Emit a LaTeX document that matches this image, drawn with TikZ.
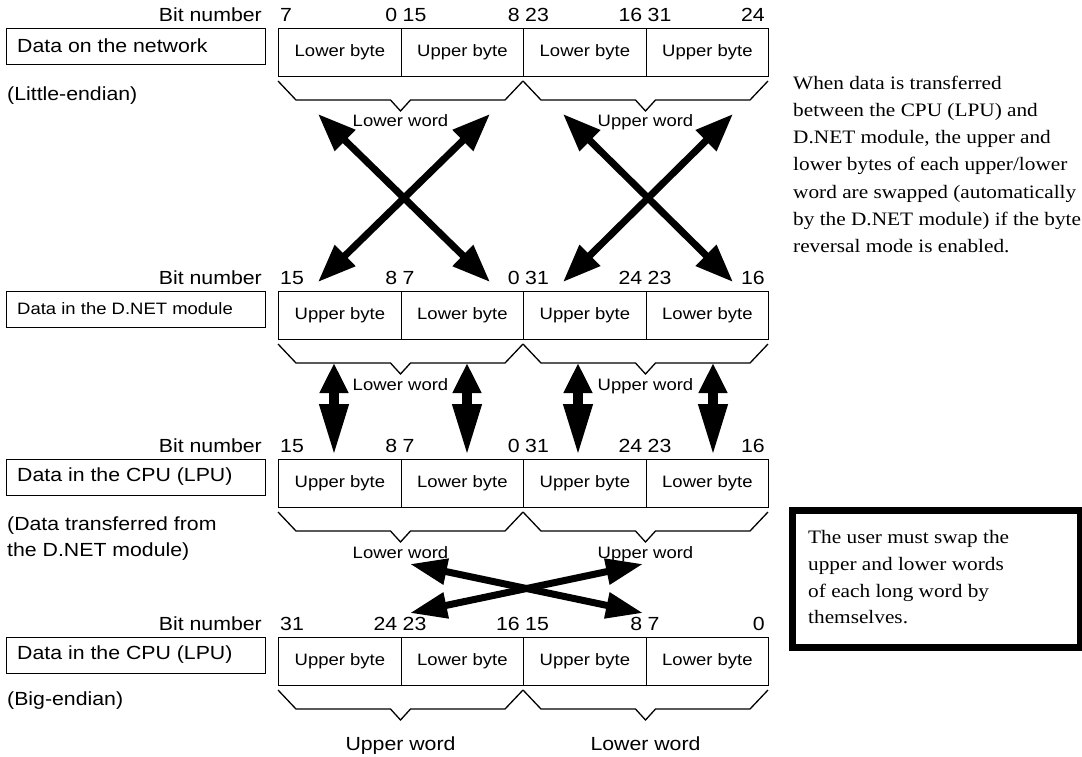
\documentclass[tikz,border=0pt]{standalone}
\usepackage{graphicx}
\usepackage{fontspec}
\setmainfont{Liberation Sans}
\newfontfamily\tnr{Liberation Serif}
\usetikzlibrary{arrows.meta}
\newcommand{\sx}[1]{\scalebox{1.12}[1]{#1}}
\def\ca{278}\def\cb{400.5}\def\cc{523}\def\cd{645.5}\def\ce{768}
% cells: #1 prefix, #2 top, #3-#6 byte labels
\newcommand{\byterow}[6]{%
  \node[cell] (#1c1) at (\ca,#2) {\sx{#3}};
  \node[cell] (#1c2) at (\cb,#2) {\sx{#4}};
  \node[cell] (#1c3) at (\cc,#2) {\sx{#5}};
  \node[cell] (#1c4) at (\cd,#2) {\sx{#6}};
}
% bit numbers: prefix in \rw, #1 baseline, #2..#9 numbers
\newcommand{\bitnums}[9]{%
  \node[num, anchor=base west] (\rw n1) at (\ca+2,#1) {\sx{#2}};
  \node[num, anchor=base east] (\rw n2) at (\cb-3,#1) {\sx{#3}};
  \node[num, anchor=base west] (\rw n3) at (\cb+2,#1) {\sx{#4}};
  \node[num, anchor=base east] (\rw n4) at (\cc-3,#1) {\sx{#5}};
  \node[num, anchor=base west] (\rw n5) at (\cc+2,#1) {\sx{#6}};
  \node[num, anchor=base east] (\rw n6) at (\cd-3,#1) {\sx{#7}};
  \node[num, anchor=base west] (\rw n7) at (\cd+2,#1) {\sx{#8}};
  \node[num, anchor=base east] (\rw n8) at (\ce-3,#1) {\sx{#9}};
  \node[num, anchor=base east] (\rw bn) at (262,#1) {\sx{Bit number}};
}
% word brace: #1 left x, #2 right x, #3 box bottom y
\newcommand{\wbrace}[3]{%
  \draw[brc] (#1,#3+5) -- (#1+18,#3+24) -- ({(#1+#2)/2-10},#3+24) -- ({(#1+#2)/2},#3+35)
    -- ({(#1+#2)/2+10},#3+24) -- (#2-18,#3+24) -- (#2,#3+5);
}
\begin{document}
\begin{tikzpicture}[x=1pt,y=-1pt,
  big/.style={inner sep=0pt, font=\fontsize{19}{22}\selectfont},
  small/.style={inner sep=0pt, font=\fontsize{16.5}{19}\selectfont},
  num/.style={inner sep=0pt, font=\fontsize{19}{22}\selectfont},
  rtxt/.style={inner sep=0pt, anchor=base west, font=\tnr\fontsize{19}{22}\selectfont},
  cell/.style={draw, line width=1.3pt, anchor=north west, minimum width=122.5pt,
    minimum height=48pt, inner sep=0pt, font=\fontsize{16.5}{19}\selectfont},
  labbox/.style={draw, line width=1.3pt, anchor=north west, minimum width=259pt,
    minimum height=36pt, inner sep=0pt},
  brc/.style={line width=1.3pt, line join=miter},
  xarrow/.style={line width=7pt, {Triangle[length=38pt,width=28pt]}-{Triangle[length=38pt,width=28pt]}},
  varrow/.style={line width=10pt, {Triangle[length=30pt,width=27pt]}-{Triangle[length=52pt,width=27pt]}},
  harrow/.style={line width=7pt, {Triangle[length=37pt,width=25pt]}-{Triangle[length=37pt,width=25pt]}}
]
\useasboundingbox (0,0) rectangle (1082,756);

% ---------- Row 1: network ----------
\def\rw{a}
\bitnums{21}{7}{0}{15}{8}{23}{16}{31}{24}
\node[labbox] (alab) at (6,28) {};
\node[big, anchor=west] (alabt) at (17,46) {\sx{Data on the network}};
\byterow{a}{28}{Lower byte}{Upper byte}{Lower byte}{Upper byte}
\node[big, anchor=west] (anote) at (7,96) {\sx{(Little-endian)}};
\wbrace{\ca}{\cc}{76}
\wbrace{\cc}{\ce}{76}
\node[small, anchor=base] (alw) at (\cb,126) {\sx{Lower word}};
\node[small, anchor=base] (auw) at (\cd,126) {\sx{Upper word}};

% ---------- Row 2: D.NET module ----------
\def\rw{b}
\bitnums{284}{15}{8}{7}{0}{31}{24}{23}{16}
\node[labbox] (blab) at (6,291) {};
\node[small, anchor=west] (blabt) at (17,309) {\sx{Data in the D.NET module}};
\byterow{b}{291}{Upper byte}{Lower byte}{Upper byte}{Lower byte}
\wbrace{\ca}{\cc}{339}
\wbrace{\cc}{\ce}{339}
\node[small, anchor=base] (blw) at (\cb,390) {\sx{Lower word}};
\node[small, anchor=base] (buw) at (\cd,390) {\sx{Upper word}};

% ---------- Row 3: CPU (transferred) ----------
\def\rw{c}
\bitnums{452}{15}{8}{7}{0}{31}{24}{23}{16}
\node[labbox] (clab) at (6,459) {};
\node[big, anchor=west] (clabt) at (17,477) {\sx{Data in the CPU (LPU)}};
\byterow{c}{459}{Upper byte}{Lower byte}{Upper byte}{Lower byte}
\node[big, anchor=west] (cnote1) at (7,526) {\sx{(Data transferred from}};
\node[big, anchor=west] (cnote2) at (7,552) {\sx{the D.NET module)}};
\wbrace{\ca}{\cc}{507}
\wbrace{\cc}{\ce}{507}
\node[small, anchor=base] (clw) at (\cb,558) {\sx{Lower word}};
\node[small, anchor=base] (cuw) at (\cd,558) {\sx{Upper word}};

% ---------- Row 4: CPU big-endian ----------
\def\rw{d}
\bitnums{630}{31}{24}{23}{16}{15}{8}{7}{0}
\node[labbox] (dlab) at (6,637) {};
\node[big, anchor=west] (dlabt) at (17,655) {\sx{Data in the CPU (LPU)}};
\byterow{d}{637}{Upper byte}{Lower byte}{Upper byte}{Lower byte}
\node[big, anchor=west] (dnote) at (7,701) {\sx{(Big-endian)}};
\wbrace{\ca}{\cc}{685}
\wbrace{\cc}{\ce}{685}
\node[big, anchor=base] (duw) at (\cb,750) {\sx{Upper word}};
\node[big, anchor=base] (dlw) at (\cd,750) {\sx{Lower word}};

% ---------- crossing arrows, row 1 -> row 2 ----------
\coordinate (p1) at (318,114); \coordinate (p2) at (490,282);
\coordinate (p3) at (490,114); \coordinate (p4) at (318,282);
\coordinate (q1) at (563,114); \coordinate (q2) at (733,282);
\coordinate (q3) at (733,114); \coordinate (q4) at (563,282);
\draw[xarrow] (p1) -- (p2);
\draw[xarrow] (p3) -- (p4);
\draw[xarrow] (q1) -- (q2);
\draw[xarrow] (q3) -- (q4);

% ---------- vertical arrows, row 2 -> row 3 ----------
\foreach \i/\x in {1/334,2/467,3/578,4/713}{
  \coordinate (vt\i) at (\x,363);
  \coordinate (vb\i) at (\x,456);
  \draw[varrow] (vt\i) -- (vb\i);
}

% ---------- crossing arrows, row 3 -> row 4 ----------
\coordinate (h1) at (410,564); \coordinate (h2) at (643,613);
\coordinate (h3) at (643,564); \coordinate (h4) at (410,613);
\draw[harrow] (h1) -- (h2);
\draw[harrow] (h3) -- (h4);

% ---------- right-hand notes ----------
\node[rtxt] (r1) at (793,89) {\sx{When data is transferred}};
\node[rtxt] (r2) at (793,116.3) {\sx{between the CPU (LPU) and}};
\node[rtxt] (r3) at (793,143.6) {\sx{D.NET module, the upper and}};
\node[rtxt] (r4) at (793,170.9) {\sx{lower bytes of each upper/lower}};
\node[rtxt] (r5) at (793,198.2) {\sx{word are swapped (automatically}};
\node[rtxt] (r6) at (793,225.5) {\sx{by the D.NET module) if the byte}};
\node[rtxt] (r7) at (793,252.8) {\sx{reversal mode is enabled.}};

\node[draw, line width=7pt, anchor=north west, minimum width=288pt,
  minimum height=137pt, inner sep=0pt] (ubox) at (788.5,506.5) {};
\node[rtxt] (u1) at (808,543) {\sx{The user must swap the}};
\node[rtxt] (u2) at (808,570) {\sx{upper and lower words}};
\node[rtxt] (u3) at (808,597) {\sx{of each long word by}};
\node[rtxt] (u4) at (808,623) {\sx{themselves.}};
\end{tikzpicture}
\end{document}
